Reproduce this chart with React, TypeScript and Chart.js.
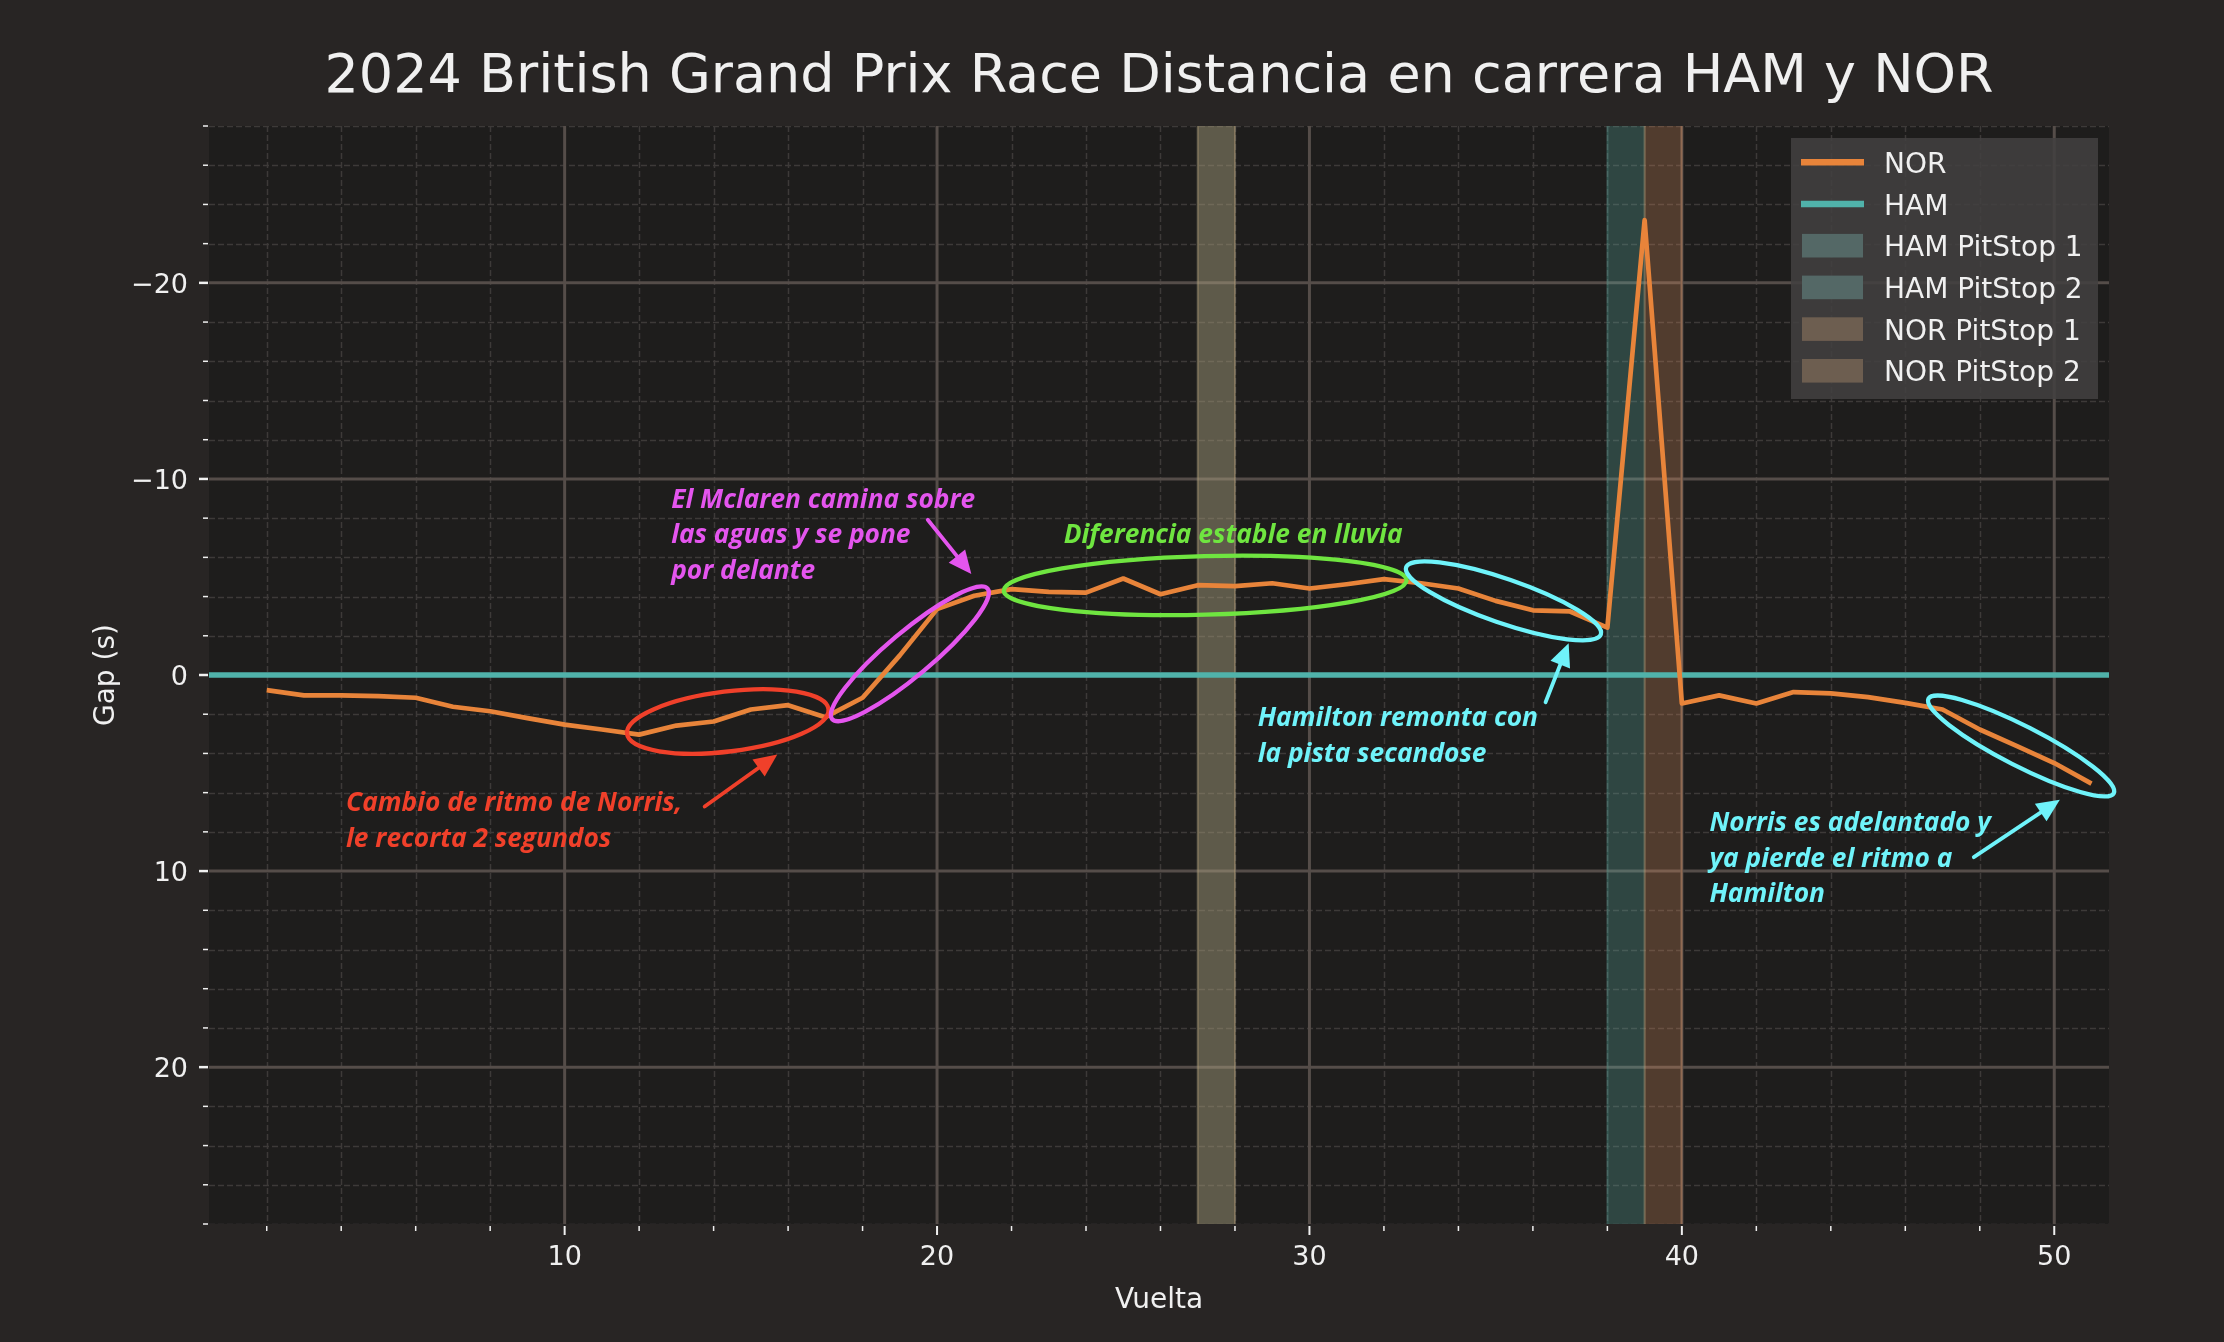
import React, { useEffect, useRef } from "react";
import { Chart, registerables } from "chart.js";

Chart.register(...registerables);

// ---------------- DATA ----------------
const LAPS = [
  2, 3, 4, 5, 6, 7, 8, 9, 10, 11, 12, 13, 14, 15, 16, 17, 18, 19, 20, 21,
  22, 23, 24, 25, 26, 27, 28, 29, 30, 31, 32, 33, 34, 35, 36, 37, 38, 39, 40, 41,
  42, 43, 44, 45, 46, 47, 48, 49, 50, 51,
];
const NOR_GAP = [
  0.77, 1.04, 1.04, 1.08, 1.16, 1.62, 1.85, 2.2, 2.53, 2.78,
  3.04, 2.58, 2.37, 1.76, 1.54, 2.15, 1.16, -1.0, -3.36, -4.04,
  -4.38, -4.24, -4.2, -4.92, -4.12, -4.58, -4.53, -4.68, -4.41, -4.63,
  -4.89, -4.68, -4.41, -3.78, -3.3, -3.24, -2.42, -23.2, 1.45, 1.04,
  1.45, 0.87, 0.94, 1.13, 1.42, 1.76, 2.78, 3.63, 4.49, 5.54,
];
const HAM_LAPS = [0, 52];
const HAM_GAP = [0, 0];

const SERIES_LABELS = ["NOR", "HAM"];

const PIT_LABELS = ["HAM PitStop 1", "HAM PitStop 2", "NOR PitStop 1", "NOR PitStop 2"];
const PIT_DRIVER = ["HAM", "HAM", "NOR", "NOR"];
const PIT_START = [27, 38, 27, 39];
const PIT_END = [28, 39, 28, 40];

const X_MIN = 0.45;
const X_MAX = 51.47;
const Y_MIN = -28;
const Y_MAX = 28;

const TITLE = "2024 British Grand Prix Race Distancia en carrera HAM y NOR";
const X_TITLE = "Vuelta";
const Y_TITLE = "Gap (s)";

// annotations (anchored in data coordinates)
const NOTE_LINES = [
  ["Cambio de ritmo de Norris,", "le recorta 2 segundos"],
  ["El Mclaren camina sobre", "las aguas y se pone", "por delante"],
  ["Diferencia estable en lluvia"],
  ["Hamilton remonta con", "la pista secandose"],
  ["Norris es adelantado y", "ya pierde el ritmo a", "Hamilton"],
];
const NOTE_LAP = [4.13, 12.86, 23.4, 28.61, 40.74];
const NOTE_GAP = [6.96, -8.52, -6.73, 2.61, 7.98];

const ELLIPSE_LAP = [14.38, 19.27, 27.2, 35.21, 49.11];
const ELLIPSE_GAP = [2.37, -1.08, -4.57, -3.78, 3.62];

const ARROW_FROM_LAP = [13.76, 19.75, 36.34, 47.84];
const ARROW_FROM_GAP = [6.71, -7.92, 1.39, 9.29];
const ARROW_TO_LAP = [15.71, 20.92, 36.96, 50.15];
const ARROW_TO_GAP = [4.06, -5.15, -1.62, 6.36];

// ---------------- STYLE ----------------
const FIG_BG = "#282524";
const PLOT_BG = "#1e1d1c";
const NOR_COLOR = "#e8843a";
const HAM_COLOR = "#50b2aa";
const BAND_COLOR: Record<string, string> = {
  HAM: "rgba(97,181,169,0.27)",
  NOR: "rgba(223,144,95,0.27)",
};
const LEGEND_PATCH: Record<string, string> = { HAM: "#546866", NOR: "#6d5e50" };
const TEXT_COLOR = "#f0f0f0";
const MAJOR_GRID = "#554d49";
const MINOR_GRID = "#3d3a38";
const FONT = '"DejaVu Sans", sans-serif';
const NOTE_FONT = 'italic 700 26.3px "Open Sans", "Noto Sans", sans-serif';
const NOTE_COLORS = ["#f0402a", "#e455ee", "#6fe540", "#6ff3fa", "#6ff3fa"];
const ELLIPSE_STYLE = [
  { rx: 101.5, ry: 30, rot: -7, color: "#f0402a" },
  { rx: 101.5, ry: 22, rot: -40, color: "#e455ee" },
  { rx: 201.5, ry: 29.3, rot: -1.5, color: "#6fe540" },
  { rx: 103, ry: 22, rot: 19, color: "#6ff3fa" },
  { rx: 104, ry: 20, rot: 27, color: "#6ff3fa" },
];
const ARROW_COLORS = ["#f0402a", "#e455ee", "#6ff3fa", "#6ff3fa"];
const NOTE_LINE_H = 35.5;

const CHART_LEFT = 209;
const CHART_RIGHT = 2109;
const CHART_TOP = 126;
const CHART_BOTTOM = 1224;
const W = 2224;
const H = 1342;

function drawArrow(ctx: CanvasRenderingContext2D, x1: number, y1: number, x2: number, y2: number, color: string) {
  const ang = Math.atan2(y2 - y1, x2 - x1);
  const headLen = 23;
  const headW = 10.5;
  const bx = x2 - headLen * Math.cos(ang);
  const by = y2 - headLen * Math.sin(ang);
  ctx.strokeStyle = color;
  ctx.fillStyle = color;
  ctx.lineWidth = 3.8;
  ctx.lineCap = "round";
  ctx.beginPath();
  ctx.moveTo(x1, y1);
  ctx.lineTo(bx + 2 * Math.cos(ang), by + 2 * Math.sin(ang));
  ctx.stroke();
  ctx.beginPath();
  ctx.moveTo(x2, y2);
  ctx.lineTo(bx - headW * Math.sin(ang), by + headW * Math.cos(ang));
  ctx.lineTo(bx + headW * Math.sin(ang), by - headW * Math.cos(ang));
  ctx.closePath();
  ctx.fill();
}

const decorPlugin = {
  id: "decor",
  beforeDraw(chart: any) {
    const { ctx, chartArea: a } = chart;
    ctx.save();
    ctx.fillStyle = FIG_BG;
    ctx.fillRect(0, 0, chart.width, chart.height);
    ctx.fillStyle = PLOT_BG;
    ctx.fillRect(a.left, a.top, a.right - a.left, a.bottom - a.top);
    ctx.restore();
  },
  beforeDatasetsDraw(chart: any) {
    const { ctx, chartArea: a } = chart;
    const xs = chart.scales.x;
    const ys = chart.scales.y;
    ctx.save();
    ctx.beginPath();
    ctx.rect(a.left, a.top, a.right - a.left, a.bottom - a.top);
    ctx.clip();
    // minor dashed grid
    ctx.strokeStyle = MINOR_GRID;
    ctx.lineWidth = 1.5;
    ctx.setLineDash([6, 3]);
    xs.ticks.forEach((t: any) => {
      if (t.value % 10 === 0) return;
      const px = Math.round(xs.getPixelForValue(t.value)) + 0.5;
      ctx.beginPath();
      ctx.moveTo(px, a.top);
      ctx.lineTo(px, a.bottom);
      ctx.stroke();
    });
    ys.ticks.forEach((t: any) => {
      if (t.value % 10 === 0) return;
      const py = Math.round(ys.getPixelForValue(t.value)) + 0.5;
      ctx.beginPath();
      ctx.moveTo(a.left, py);
      ctx.lineTo(a.right, py);
      ctx.stroke();
    });
    // major solid grid
    ctx.setLineDash([]);
    ctx.strokeStyle = MAJOR_GRID;
    ctx.lineWidth = 3;
    xs.ticks.forEach((t: any) => {
      if (t.value % 10 !== 0) return;
      const px = xs.getPixelForValue(t.value);
      ctx.beginPath();
      ctx.moveTo(px, a.top);
      ctx.lineTo(px, a.bottom);
      ctx.stroke();
    });
    ys.ticks.forEach((t: any) => {
      if (t.value % 10 !== 0) return;
      const py = ys.getPixelForValue(t.value);
      ctx.beginPath();
      ctx.moveTo(a.left, py);
      ctx.lineTo(a.right, py);
      ctx.stroke();
    });
    // pit stop bands
    PIT_START.forEach((s, i) => {
      const x1 = xs.getPixelForValue(s);
      const x2 = xs.getPixelForValue(PIT_END[i]);
      const c = BAND_COLOR[PIT_DRIVER[i]];
      ctx.fillStyle = c;
      ctx.fillRect(x1, a.top, x2 - x1, a.bottom - a.top);
      ctx.strokeStyle = c;
      ctx.lineWidth = 2;
      ctx.beginPath();
      ctx.moveTo(x1, a.top);
      ctx.lineTo(x1, a.bottom);
      ctx.moveTo(x2, a.top);
      ctx.lineTo(x2, a.bottom);
      ctx.stroke();
    });
    ctx.restore();
  },
  afterDatasetsDraw(chart: any) {
    const { ctx } = chart;
    const xs = chart.scales.x;
    const ys = chart.scales.y;
    ctx.save();
    // ellipses
    ELLIPSE_LAP.forEach((lap, i) => {
      const st = ELLIPSE_STYLE[i];
      ctx.beginPath();
      ctx.ellipse(
        xs.getPixelForValue(lap),
        ys.getPixelForValue(ELLIPSE_GAP[i]),
        st.rx,
        st.ry,
        (st.rot * Math.PI) / 180,
        0,
        Math.PI * 2
      );
      ctx.strokeStyle = st.color;
      ctx.lineWidth = 4.3;
      ctx.stroke();
    });
    // arrows
    ARROW_FROM_LAP.forEach((lap, i) => {
      drawArrow(
        ctx,
        xs.getPixelForValue(lap),
        ys.getPixelForValue(ARROW_FROM_GAP[i]),
        xs.getPixelForValue(ARROW_TO_LAP[i]),
        ys.getPixelForValue(ARROW_TO_GAP[i]),
        ARROW_COLORS[i]
      );
    });
    // texts
    ctx.font = NOTE_FONT;
    ctx.textAlign = "left";
    ctx.textBaseline = "alphabetic";
    NOTE_LINES.forEach((lines, i) => {
      const x = xs.getPixelForValue(NOTE_LAP[i]);
      const y0 = ys.getPixelForValue(NOTE_GAP[i]);
      ctx.fillStyle = NOTE_COLORS[i];
      lines.forEach((ln, j) => ctx.fillText(ln, x, y0 + j * NOTE_LINE_H));
    });
    ctx.restore();
  },
  afterDraw(chart: any) {
    const { ctx, chartArea: a } = chart;
    const xs = chart.scales.x;
    const ys = chart.scales.y;
    ctx.save();
    // tick marks
    ctx.strokeStyle = TEXT_COLOR;
    xs.ticks.forEach((t: any) => {
      const major = t.value % 10 === 0;
      const px = xs.getPixelForValue(t.value);
      ctx.lineWidth = major ? 2 : 1.5;
      ctx.beginPath();
      ctx.moveTo(px, a.bottom + 2);
      ctx.lineTo(px, a.bottom + (major ? 11 : 7));
      ctx.stroke();
    });
    ys.ticks.forEach((t: any) => {
      const major = t.value % 10 === 0;
      const py = ys.getPixelForValue(t.value);
      ctx.lineWidth = major ? 2.5 : 1.5;
      ctx.beginPath();
      ctx.moveTo(a.left - 1, py);
      ctx.lineTo(a.left - (major ? 10 : 6), py);
      ctx.stroke();
    });
    // title
    ctx.fillStyle = TEXT_COLOR;
    ctx.textAlign = "center";
    ctx.textBaseline = "alphabetic";
    ctx.font = `54px ${FONT}`;
    ctx.fillText(TITLE, (a.left + a.right) / 2, 92);
    // axis titles
    ctx.font = `28px ${FONT}`;
    ctx.fillText(X_TITLE, (a.left + a.right) / 2, 1308);
    ctx.save();
    ctx.translate(114, (a.top + a.bottom) / 2);
    ctx.rotate(-Math.PI / 2);
    ctx.fillText(Y_TITLE, 0, 0);
    ctx.restore();
    // legend
    const lx = 1791, ly = 138, lw = 307, lh = 261;
    ctx.fillStyle = "rgba(66,64,64,0.88)";
    ctx.fillRect(lx, ly, lw, lh);
    const rowY = (i: number) => 162.3 + i * 41.7;
    const hx1 = 1801, hx2 = 1864;
    const items: { label: string; kind: string; color: string }[] = [];
    chart.data.datasets.forEach((d: any) => items.push({ label: d.label, kind: "line", color: d.borderColor }));
    PIT_LABELS.forEach((l, i) => items.push({ label: l, kind: "patch", color: LEGEND_PATCH[PIT_DRIVER[i]] }));
    ctx.font = `28px ${FONT}`;
    ctx.textAlign = "left";
    items.forEach((it, i) => {
      const cy = rowY(i);
      if (it.kind === "line") {
        ctx.strokeStyle = it.color;
        ctx.lineWidth = 6.5;
        ctx.lineCap = "butt";
        ctx.beginPath();
        ctx.moveTo(hx1, cy);
        ctx.lineTo(hx2, cy);
        ctx.stroke();
      } else {
        ctx.fillStyle = it.color;
        ctx.fillRect(hx1 + 1, cy - 11.8, hx2 - hx1 - 2, 23.6);
      }
      ctx.fillStyle = TEXT_COLOR;
      ctx.fillText(it.label, 1884, cy + 10.5);
    });
    ctx.restore();
  },
};

export default function App() {
  const canvasRef = useRef<HTMLCanvasElement | null>(null);

  useEffect(() => {
    const canvas = canvasRef.current;
    if (!canvas) return;
    const chart = new Chart(canvas, {
      type: "line",
      data: {
        datasets: [
          {
            label: SERIES_LABELS[0],
            data: LAPS.map((l, i) => ({ x: l, y: NOR_GAP[i] })),
            borderColor: NOR_COLOR,
            backgroundColor: NOR_COLOR,
            borderWidth: 4.7,
            pointRadius: 0,
            tension: 0,
            borderJoinStyle: "round",
          },
          {
            label: SERIES_LABELS[1],
            data: HAM_LAPS.map((l, i) => ({ x: l, y: HAM_GAP[i] })),
            borderColor: HAM_COLOR,
            backgroundColor: HAM_COLOR,
            borderWidth: 5.7,
            pointRadius: 0,
            tension: 0,
            clip: 0,
          },
        ],
      },
      options: {
        animation: false,
        responsive: true,
        maintainAspectRatio: false,
        devicePixelRatio: 1,
        events: [],
        layout: { padding: { top: CHART_TOP, right: W - CHART_RIGHT, left: 0, bottom: 0 } },
        plugins: {
          legend: { display: false },
          title: { display: false },
          tooltip: { enabled: false },
        },
        scales: {
          x: {
            type: "linear",
            min: X_MIN,
            max: X_MAX,
            grid: { display: false, drawTicks: false },
            border: { display: false },
            ticks: {
              stepSize: 2,
              includeBounds: false,
              autoSkip: false,
              maxRotation: 0,
              padding: 18,
              color: TEXT_COLOR,
              font: { family: "DejaVu Sans", size: 27 },
              callback: (v: any) => (Number(v) % 10 === 0 ? String(v) : ""),
            },
            afterFit: (s: any) => {
              s.height = H - CHART_BOTTOM;
            },
          },
          y: {
            type: "linear",
            min: Y_MIN,
            max: Y_MAX,
            reverse: true,
            grid: { display: false, drawTicks: false },
            border: { display: false },
            ticks: {
              stepSize: 2,
              autoSkip: false,
              padding: 21,
              labelOffset: 3,
              color: TEXT_COLOR,
              font: { family: "DejaVu Sans", size: 27 },
              callback: (v: any) => {
                const n = Number(v);
                if (n % 10 !== 0) return "";
                return n < 0 ? "\u2212" + Math.abs(n) : String(n);
              },
            },
            afterFit: (s: any) => {
              s.width = CHART_LEFT;
            },
          },
        },
      },
      plugins: [decorPlugin],
    } as any);
    return () => chart.destroy();
  }, []);

  return (
    <div
      style={{
        position: "fixed",
        left: 0,
        top: 0,
        width: W,
        height: H,
        background: FIG_BG,
      }}
    >
      <canvas ref={canvasRef} />
    </div>
  );
}
